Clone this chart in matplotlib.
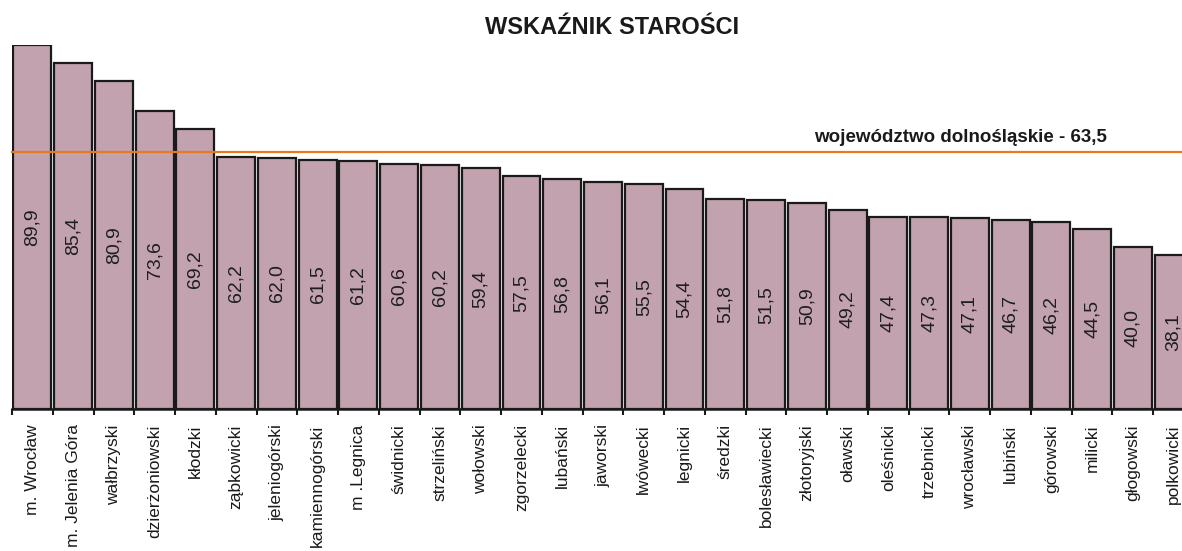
import matplotlib
matplotlib.use("Agg")
import matplotlib.pyplot as plt
import numpy as np

plt.rcParams['font.family'] = ['Liberation Sans', 'DejaVu Sans']

# Powiaty Dolnego Śląska - wskaźnik starości
powiaty = [
    "m. Wrocław", "m. Jelenia Góra", "wałbrzyski", "dzierżoniowski", "kłodzki",
    "ząbkowicki", "jeleniogórski", "kamiennogórski", "m .Legnica", "świdnicki",
    "strzeliński", "wołowski", "zgorzelecki", "lubański", "jaworski",
    "lwówecki", "legnicki", "średzki", "bolesławiecki", "złotoryjski",
    "oławski", "oleśnicki", "trzebnicki", "wrocławski", "lubiński",
    "górowski", "milicki", "głogowski", "polkowicki",
]
wartosci = [
    89.9, 85.4, 80.9, 73.6, 69.2,
    62.2, 62.0, 61.5, 61.2, 60.6,
    60.2, 59.4, 57.5, 56.8, 56.1,
    55.5, 54.4, 51.8, 51.5, 50.9,
    49.2, 47.4, 47.3, 47.1, 46.7,
    46.2, 44.5, 40.0, 38.1,
]
wojewodztwo = 63.5
wojewodztwo_label = "województwo dolnośląskie - 63,5"
tytul = "WSKAŹNIK STAROŚCI"

W, H = 1182, 551
fig = plt.figure(figsize=(W / 100, H / 100), dpi=100)
# axes in pixel terms: left 12, right ~1194, baseline 409, top (89.9) 45
ax = fig.add_axes([12 / W, (H - 409) / H, (1194 - 12) / W, (409 - 45) / H])

x = np.arange(len(powiaty))
ax.bar(x, wartosci, width=0.93, color="#C1A2AE", edgecolor="#1a1a1a",
       linewidth=1.6, zorder=2)

for xi, v in zip(x, wartosci):
    ax.text(xi, v / 2, f"{v:.1f}".replace(".", ","), rotation=90,
            ha="center", va="center", fontsize=14, color="#1e1e1e", zorder=3)

ax.axhline(wojewodztwo, color="#E8791E", linewidth=1.6, zorder=4, clip_on=False)
ax.text((1107 - 12) / (1194 - 12), wojewodztwo + 1.5, wojewodztwo_label,
        transform=ax.get_yaxis_transform(), ha="right", va="bottom",
        fontsize=13.5, fontweight="bold", color="#1a1a1a")

ax.set_xlim(-0.5, len(powiaty) - 0.5)
ax.set_ylim(0, 89.9)

ax.set_xticks(x)
ax.set_xticklabels(powiaty, rotation=90, fontsize=12.5, color="#1a1a1a")
ax.tick_params(axis="x", which="major", length=0, pad=11)
ax.set_xticks(np.arange(len(powiaty) + 1) - 0.5, minor=True)
ax.tick_params(axis="x", which="minor", length=4, width=1.5, color="#1a1a1a",
               direction="out")
ax.set_yticks([])

for s in ["top", "right", "left"]:
    ax.spines[s].set_visible(False)
ax.spines["bottom"].set_linewidth(1.8)
ax.spines["bottom"].set_color("#1a1a1a")
ax.spines["bottom"].set_zorder(5)

fig.text(612 / W, 1 - 27 / H, tytul, ha="center", va="center",
         fontsize=17, fontweight="bold", color="#1a1a1a")

fig.savefig("out.png", dpi=100)
